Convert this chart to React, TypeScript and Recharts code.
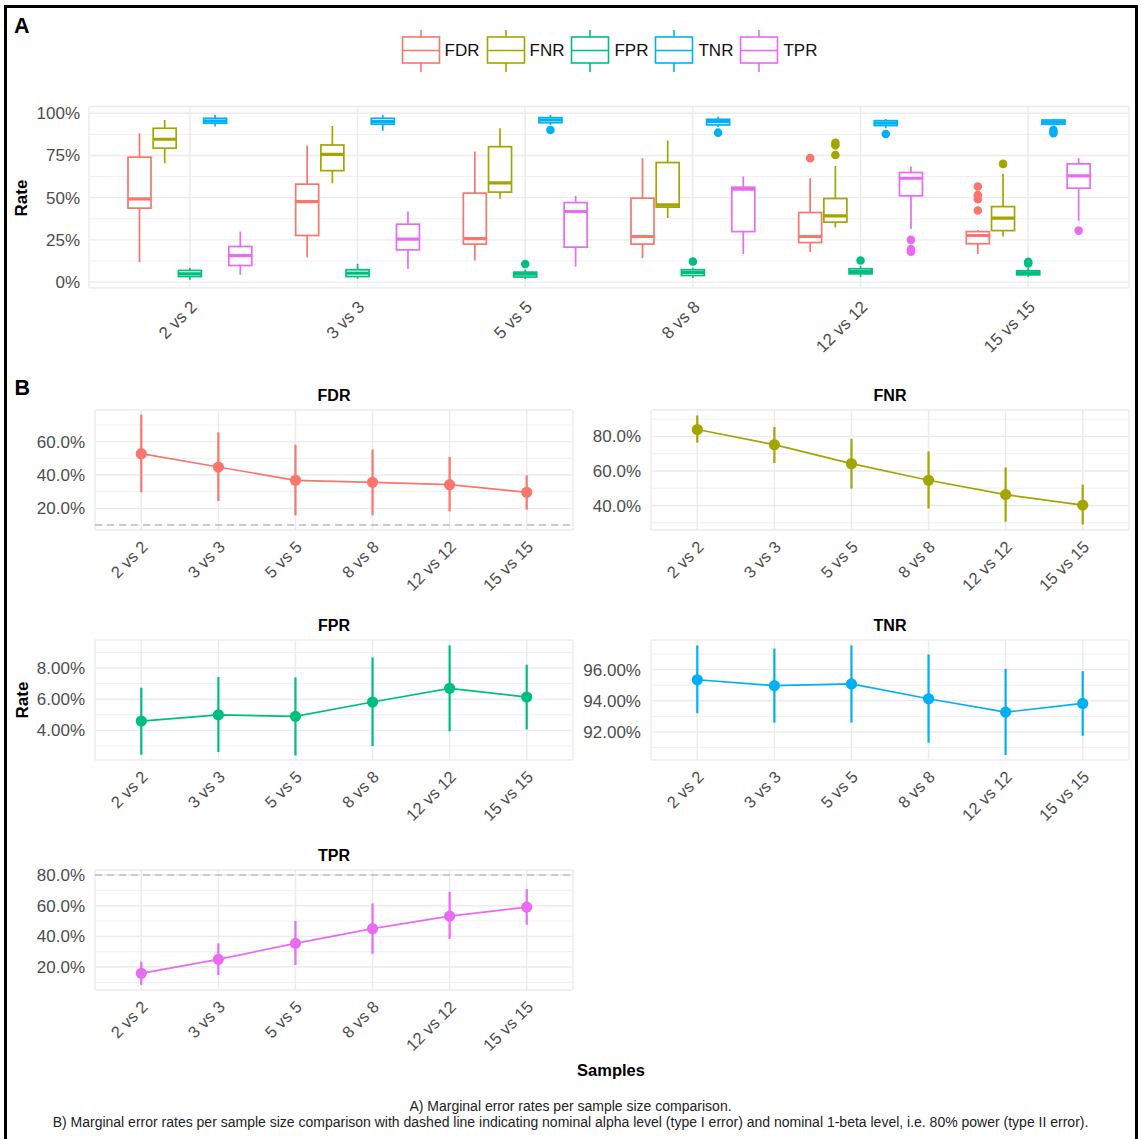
import React from "react";
import {
  ComposedChart,
  Bar,
  XAxis,
  YAxis,
  CartesianGrid,
  Legend,
  LineChart,
  Line,
  ErrorBar,
  ReferenceLine,
} from "recharts";

const FONT = "'Liberation Sans', Arial, Helvetica, sans-serif";
const TICK = "#4D4D4D";
const GRID = "#EBEBEB";

const categories = ["2 vs 2", "3 vs 3", "5 vs 5", "8 vs 8", "12 vs 12", "15 vs 15"];
const metrics = ["FDR", "FNR", "FPR", "TNR", "TPR"];
const colors: Record<string, string> = {
  FDR: "#F8766D",
  FNR: "#A3A500",
  FPR: "#00BF7D",
  TNR: "#00B0F6",
  TPR: "#E76BF3",
};

// panel A: [min, q1, median, q3, max] in %
const fdrBox = [
  [11.8, 43.8, 49.3, 74.0, 88.2],
  [14.6, 27.6, 47.7, 58.0, 80.7],
  [12.8, 22.5, 25.8, 52.7, 77.3],
  [14.2, 22.5, 27.0, 49.7, 73.4],
  [17.8, 23.4, 27.0, 41.2, 61.5],
  [16.7, 22.7, 27.6, 29.9, 30.9],
];
const fnrBox = [
  [70.4, 79.3, 84.6, 91.1, 96.0],
  [58.6, 66.0, 75.7, 81.2, 92.5],
  [49.3, 53.3, 58.8, 80.2, 91.1],
  [37.9, 44.4, 45.7, 70.8, 83.8],
  [32.3, 35.5, 39.2, 49.5, 68.8],
  [27.0, 30.5, 37.9, 44.7, 64.1],
];
const fprBox = [
  [1.4, 3.3, 4.9, 6.9, 8.3],
  [2.0, 3.3, 5.3, 7.3, 10.8],
  [1.8, 3.0, 4.7, 5.9, 7.5],
  [2.4, 3.9, 5.7, 7.3, 8.5],
  [3.0, 4.9, 6.3, 7.9, 9.6],
  [3.1, 4.3, 5.5, 6.7, 8.3],
];
const tnrBox = [
  [92.1, 94.1, 95.4, 97.0, 99.0],
  [89.7, 93.5, 95.0, 97.0, 99.0],
  [93.1, 94.4, 96.0, 97.4, 99.0],
  [91.9, 93.1, 95.0, 96.4, 98.0],
  [91.1, 92.7, 94.1, 95.6, 96.6],
  [92.8, 93.5, 94.8, 96.0, 96.6],
];
const tprBox = [
  [4.3, 9.8, 15.7, 21.1, 29.9],
  [7.9, 19.1, 25.4, 34.3, 41.8],
  [9.2, 20.7, 41.8, 47.1, 51.1],
  [16.7, 29.9, 55.0, 56.2, 62.5],
  [31.4, 51.1, 61.5, 64.9, 68.4],
  [36.3, 55.6, 62.9, 70.0, 73.4],
];

const fdrOut = [[], [], [], [], [73.4], [56.6, 51.5, 49.1, 42.4]];
const fnrOut = [[], [], [], [], [82.5, 81.0, 75.3], [70.0]];
const fprOut = [[], [], [10.7], [12.2], [12.8], [12.0, 11.0]];
const tnrOut = [[], [], [90.1], [88.5], [87.7], [90.0, 88.2]];
const tprOut = [[], [], [], [], [25.0, 19.5, 18.0], [30.5]];

const boxStats: Record<string, number[][]> = { FDR: fdrBox, FNR: fnrBox, FPR: fprBox, TNR: tnrBox, TPR: tprBox };
const outliers: Record<string, number[][]> = { FDR: fdrOut, FNR: fnrOut, FPR: fprOut, TNR: tnrOut, TPR: tprOut };

const rateTicks = [0, 25, 50, 75, 100];
const rateMinor = [12.5, 37.5, 62.5, 87.5];

// panel B: mean and interval (%)
const fdrMean = [52.8, 44.8, 36.8, 35.6, 34.2, 29.6];
const fdrLo = [29.6, 24.4, 15.8, 15.8, 18.2, 19.2];
const fdrHi = [76.2, 65.6, 58.2, 55.2, 50.8, 39.8];

const fnrMean = [84.0, 75.2, 64.2, 54.6, 46.3, 40.2];
const fnrLo = [76.4, 64.6, 49.8, 38.3, 30.6, 29.0];
const fnrHi = [92.1, 85.4, 78.6, 71.3, 62.0, 52.1];

const fprMean = [4.6, 5.0, 4.9, 5.82, 6.7, 6.14];
const fprLo = [2.44, 2.61, 2.39, 2.99, 3.94, 4.06];
const fprHi = [6.74, 7.42, 7.4, 8.68, 9.45, 8.21];

const tnrMean = [95.35, 94.97, 95.08, 94.13, 93.27, 93.83];
const tnrLo = [93.2, 92.6, 92.6, 91.31, 90.52, 91.76];
const tnrHi = [97.55, 97.35, 97.55, 96.97, 96.05, 95.9];

const tprMean = [15.9, 25.0, 35.4, 45.0, 53.2, 59.1];
const tprLo = [8.3, 14.8, 21.3, 28.7, 38.3, 47.6];
const tprHi = [23.5, 35.4, 50.1, 61.5, 69.1, 70.9];

const boxData = categories.map((cat, i) => {
  const row: any = { cat };
  metrics.forEach((m) => {
    const s = boxStats[m][i];
    row[m] = s;
    row[m + "_out"] = outliers[m][i];
    row[m + "_box"] = [s[1], s[3]];
  });
  return row;
});

function facetData(mean: number[], lo: number[], hi: number[]) {
  return categories.map((cat, i) => ({ cat, mean: mean[i], err: [mean[i] - lo[i], hi[i] - mean[i]] }));
}

function makeBoxShape(metric: string, color: string) {
  return (props: any) => {
    const { x, y, width, height, payload } = props;
    const [mn, q1, med, q3, mx] = payload[metric];
    const outs: number[] = payload[metric + "_out"] || [];
    // map values with the bar's own pixel span (linear scale)
    const py = (v: number) => y + ((q3 - v) / (q3 - q1)) * height;
    const cx = x + width / 2;
    return (
      <g>
        <line x1={cx} x2={cx} y1={py(mx)} y2={y} stroke={color} strokeWidth={1.7} />
        <line x1={cx} x2={cx} y1={y + height} y2={py(mn)} stroke={color} strokeWidth={1.7} />
        <rect x={x} y={y} width={width} height={height} fill="#fff" stroke={color} strokeWidth={1.7} />
        <line x1={x} x2={x + width} y1={py(med)} y2={py(med)} stroke={color} strokeWidth={3.2} />
        {outs.map((v, k) => (
          <circle key={k} cx={cx} cy={py(v)} r={4.3} fill={color} />
        ))}
      </g>
    );
  };
}

const XTick = (props: any) => {
  const { x, y, payload, fontSize, dx, dy } = props;
  const tx = x + dx;
  const ty = y + dy;
  return (
    <text x={tx} y={ty} transform={`rotate(-45 ${tx} ${ty})`} textAnchor="end" fontSize={fontSize} fill={TICK} fontFamily={FONT}>
      {payload.value}
    </text>
  );
};

const BoxLegend = (props: any) => {
  const items = props.payload || [];
  return (
    <div style={{ height: 86.5, boxSizing: "border-box", paddingTop: 10, display: "flex", justifyContent: "center", fontFamily: FONT }}>
      {items.map((e: any) => (
        <div key={e.value} style={{ display: "flex", alignItems: "center", height: 42, marginRight: 6 }}>
          <svg width={40} height={42} style={{ display: "block" }}>
            <line x1={20} x2={20} y1={0} y2={7} stroke={e.color} strokeWidth={1.6} />
            <line x1={20} x2={20} y1={33} y2={42} stroke={e.color} strokeWidth={1.6} />
            <rect x={1.5} y={7} width={37} height={26} fill="#fff" stroke={e.color} strokeWidth={1.6} />
            <line x1={1.5} x2={38.5} y1={20.5} y2={20.5} stroke={e.color} strokeWidth={1.6} />
          </svg>
          <span style={{ fontSize: 17, color: "#111", marginLeft: 4 }}>{e.value}</span>
        </div>
      ))}
    </div>
  );
};

function PanelA() {
  return (
    <div style={{ position: "absolute", left: 0, top: 0 }}>
      <ComposedChart
        width={1141}
        height={358}
        data={boxData}
        margin={{ top: 20, right: 12, bottom: 0, left: 0 }}
        barSize={23}
        barGap={2.2}
      >
        <CartesianGrid stroke={GRID} strokeWidth={0.8} vertical={false} horizontalValues={rateMinor} />
        <CartesianGrid stroke={GRID} strokeWidth={1.4} />
        <XAxis
          dataKey="cat"
          padding={{ left: 17, right: 17 }}
          tickLine={false}
          axisLine={false}
          tickSize={0}
          tickMargin={0}
          interval={0}
          height={70}
          tick={<XTick fontSize={17} dx={8} dy={20} />}
        />
        <YAxis
          type="number"
          domain={[-3.5, 104]}
          allowDataOverflow
          ticks={rateTicks}
          interval={0}
          tickFormatter={(v: number) => `${v}%`}
          width={89}
          tickSize={0}
          tickMargin={9}
          tickLine={false}
          axisLine={false}
          tick={{ fill: TICK, fontSize: 17, fontFamily: FONT }}
        />
        <Legend
          verticalAlign="top"
          content={<BoxLegend />}
          wrapperStyle={{ top: 20, left: 89, width: 1046 }}
        />
        {metrics.map((m) => (
          <Bar
            key={m}
            name={m}
            dataKey={m + "_box"}
            fill={colors[m]}
            stroke={colors[m]}
            shape={makeBoxShape(m, colors[m])}
            isAnimationActive={false}
          />
        ))}
      </ComposedChart>
    </div>
  );
}

type FacetProps = {
  left: number;
  plotTop: number;
  width: number;
  yWidth: number;
  rightM: number;
  data: any[];
  domain: [number, number];
  ticks: number[];
  minor: number[];
  digits: number;
  color: string;
  hline?: number;
};

function Facet(p: FacetProps) {
  return (
    <div style={{ position: "absolute", left: p.left, top: p.plotTop - 10 }}>
      <LineChart width={p.width} height={200} data={p.data} margin={{ top: 10, right: p.rightM, bottom: 0, left: 0 }}>
        <CartesianGrid stroke={GRID} strokeWidth={0.8} vertical={false} horizontalValues={p.minor} />
        <CartesianGrid stroke={GRID} strokeWidth={1.4} />
        <XAxis
          dataKey="cat"
          padding={{ left: 46.3, right: 46.3 }}
          tickLine={false}
          axisLine={false}
          tickSize={0}
          tickMargin={0}
          interval={0}
          height={70}
          tick={<XTick fontSize={16.5} dx={7.5} dy={18} />}
        />
        <YAxis
          type="number"
          domain={p.domain}
          allowDataOverflow
          ticks={p.ticks}
          interval={0}
          tickFormatter={(v: number) => `${v.toFixed(p.digits)}%`}
          width={p.yWidth}
          tickSize={0}
          tickMargin={10}
          tickLine={false}
          axisLine={false}
          tick={{ fill: TICK, fontSize: 17, fontFamily: FONT }}
        />
        {p.hline !== undefined && (
          <ReferenceLine y={p.hline} stroke="#BDBDBD" strokeDasharray="7 5" strokeWidth={1.6} />
        )}
        <Line
          type="linear"
          dataKey="mean"
          stroke={p.color}
          strokeWidth={1.7}
          dot={{ r: 5.6, fill: p.color, stroke: p.color, strokeWidth: 0 }}
          isAnimationActive={false}
        >
          <ErrorBar dataKey="err" width={0} stroke={p.color} strokeWidth={2.2} direction="y" isAnimationActive={false} />
        </Line>
      </LineChart>
    </div>
  );
}

const L = { left: 0, width: 580, yWidth: 95, rightM: 7 };
const R = { left: 580, width: 561, yWidth: 71, rightM: 12 };

const titles = [
  { t: "FDR", x: 334, y: 400.5 },
  { t: "FNR", x: 890, y: 400.5 },
  { t: "FPR", x: 334, y: 630.5 },
  { t: "TNR", x: 890, y: 630.5 },
  { t: "TPR", x: 334, y: 860.5 },
];

export default function App() {
  return (
    <div style={{ position: "relative", width: 1141, height: 1139, background: "#fff", overflow: "hidden", fontFamily: FONT }}>
      <style>{"body{margin:0;background:#fff}"}</style>
      <PanelA />
      <Facet {...L} plotTop={410} data={facetData(fdrMean, fdrLo, fdrHi)} domain={[7, 79]} ticks={[20, 40, 60]} minor={[10, 30, 50, 70]} digits={1} color={colors.FDR} hline={10} />
      <Facet {...R} plotTop={410} data={facetData(fnrMean, fnrLo, fnrHi)} domain={[25.8, 95.3]} ticks={[40, 60, 80]} minor={[30, 50, 70, 90]} digits={1} color={colors.FNR} />
      <Facet {...L} plotTop={640} data={facetData(fprMean, fprLo, fprHi)} domain={[2.1, 9.8]} ticks={[4, 6, 8]} minor={[3, 5, 7, 9]} digits={2} color={colors.FPR} />
      <Facet {...R} plotTop={640} data={facetData(tnrMean, tnrLo, tnrHi)} domain={[90.2, 97.9]} ticks={[92, 94, 96]} minor={[91, 93, 95, 97]} digits={2} color={colors.TNR} />
      <Facet {...L} plotTop={870} data={facetData(tprMean, tprLo, tprHi)} domain={[5.0, 83.3]} ticks={[20, 40, 60, 80]} minor={[10, 30, 50, 70]} digits={1} color={colors.TPR} hline={80} />

      <svg width={1141} height={1139} style={{ position: "absolute", left: 0, top: 0, pointerEvents: "none" }} fontFamily={FONT}>
        <text x={14} y={33.3} fontSize={21.5} fontWeight="bold" fill="#000">A</text>
        <text x={14.5} y={395} fontSize={21.5} fontWeight="bold" fill="#000">B</text>
        <text x={27.3} y={198} transform="rotate(-90 27.3 198)" textAnchor="middle" fontSize={17} fontWeight="bold" fill="#000">Rate</text>
        <text x={27.5} y={700} transform="rotate(-90 27.5 700)" textAnchor="middle" fontSize={17} fontWeight="bold" fill="#000">Rate</text>
        {titles.map((d) => (
          <text key={d.t} x={d.x} y={d.y} textAnchor="middle" fontSize={16} fontWeight="bold" fill="#000">{d.t}</text>
        ))}
        <text x={611} y={1076} textAnchor="middle" fontSize={16.5} fontWeight="bold" fill="#000">Samples</text>
        <text x={570.5} y={1111} textAnchor="middle" fontSize={14} fill="#222">A) Marginal error rates per sample size comparison.</text>
        <text x={570.5} y={1127} textAnchor="middle" fontSize={14} fill="#222">
          B) Marginal error rates per sample size comparison with dashed line indicating nominal alpha level (type I error) and nominal 1-beta level, i.e. 80% power (type II error).
        </text>
      </svg>
      <div style={{ position: "absolute", left: 3.5, top: 5, width: 1134.5, height: 1150, border: "3px solid #000", borderBottom: "none", boxSizing: "border-box", pointerEvents: "none" }} />
    </div>
  );
}
